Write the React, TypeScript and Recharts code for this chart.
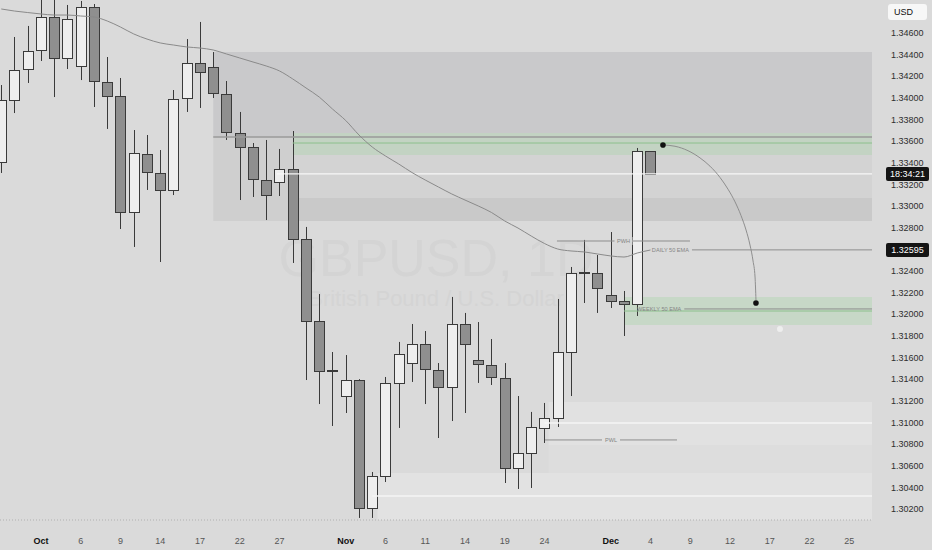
import React from "react";
import {
  ComposedChart,
  Bar,
  Line,
  XAxis,
  YAxis,
  ReferenceArea,
  ReferenceLine,
  ReferenceDot,
} from "recharts";

// candle index 0 = Oct 1 (weekdays only); first visible candle is Sep 26
const FIRST = -3;

const opens = [
  1.33407, 1.33981, 1.34267, 1.34443, 1.34748, 1.34369, 1.34295, 1.3484, 1.34147, 1.34018,
  1.32945, 1.33481, 1.33306, 1.33149, 1.33999, 1.34323, 1.34286, 1.34036, 1.33676, 1.33546,
  1.33241, 1.33223, 1.33343, 1.32696, 1.31938, 1.31485, 1.31244, 1.31392, 1.30209, 1.30505,
  1.31365, 1.31549, 1.31725, 1.31485, 1.31328, 1.3191, 1.31577, 1.31531, 1.31411, 1.30579,
  1.30718, 1.30949, 1.31041, 1.31651, 1.32391, 1.32381, 1.32178, 1.32123, 1.32095, 1.33509,
];
const highs = [
  1.34119, 1.34563, 1.34665, 1.3496, 1.3498, 1.34859, 1.34896, 1.34868, 1.34378, 1.34184,
  1.33703, 1.33657, 1.33518, 1.34073, 1.34544, 1.34702, 1.34424, 1.34156, 1.3387, 1.33583,
  1.33611, 1.33528, 1.33694, 1.32807, 1.32187, 1.31651, 1.31623, 1.314, 1.30542, 1.3142,
  1.31744, 1.3191, 1.31845, 1.31549, 1.3216, 1.32012, 1.31928, 1.31771, 1.31549, 1.31244,
  1.31097, 1.3118, 1.32141, 1.32437, 1.32687, 1.32548, 1.3276, 1.32215, 1.33537, 1.33509,
];
const lows = [
  1.33306, 1.3386, 1.34138, 1.34341, 1.34008, 1.34267, 1.34165, 1.33916, 1.33713, 1.32788,
  1.32622, 1.33149, 1.32483, 1.33102, 1.3387, 1.33907, 1.33999, 1.33611, 1.33056, 1.33084,
  1.32871, 1.33093, 1.32474, 1.31392, 1.3117, 1.30967, 1.31087, 1.30117, 1.30117, 1.30449,
  1.30949, 1.31374, 1.3117, 1.30856, 1.31013, 1.31087, 1.31365, 1.31346, 1.3044, 1.30385,
  1.30394, 1.3081, 1.30958, 1.31244, 1.32104, 1.32012, 1.32058, 1.31799, 1.31984, 1.33297,
];
const closes = [
  1.33981, 1.34258, 1.34434, 1.34748, 1.34369, 1.34729, 1.3484, 1.34156, 1.34018, 1.32945,
  1.33491, 1.33315, 1.33149, 1.3399, 1.34323, 1.34239, 1.34045, 1.33685, 1.33546, 1.3325,
  1.33102, 1.33343, 1.32696, 1.31938, 1.31476, 1.3148, 1.31392, 1.30209, 1.30505, 1.31365,
  1.31633, 1.31725, 1.31494, 1.31328, 1.3191, 1.31725, 1.3154, 1.3142, 1.30579, 1.30718,
  1.30958, 1.31041, 1.31651, 1.32381, 1.32395, 1.32243, 1.32123, 1.32095, 1.33509, 1.33297,
];
// daily 50 EMA
const ema50 = [
  1.34822, 1.34803, 1.34789, 1.34776, 1.34766, 1.34766, 1.34757, 1.34748, 1.34711, 1.34655,
  1.34591, 1.34544, 1.34508, 1.34489, 1.34471, 1.34461, 1.34443, 1.34406, 1.34369, 1.34332,
  1.34295, 1.34249, 1.34175, 1.34092, 1.34008, 1.33897, 1.33791, 1.33657, 1.33546, 1.33463,
  1.33389, 1.3331, 1.33241, 1.33176, 1.33112, 1.33056, 1.33001, 1.32941, 1.32862, 1.32797,
  1.32723, 1.32654, 1.32603, 1.32585, 1.32576, 1.32557, 1.32539, 1.32529, 1.32566, 1.32594,
];

const tickIdx = [0, 3, 6, 9, 12, 15, 18, 23, 26, 29, 32, 35, 38, 43, 46, 49, 52, 55, 58, 61];
const tickLabels = [
  "Oct", "6", "9", "14", "17", "22", "27", "Nov", "6", "11",
  "14", "19", "24", "Dec", "4", "9", "12", "17", "22", "25",
];
const months = ["Oct", "Nov", "Dec"];

const priceTicks = [
  1.302, 1.304, 1.306, 1.308, 1.31, 1.312, 1.314, 1.316, 1.318, 1.32, 1.322,
  1.324, 1.328, 1.33, 1.332, 1.334, 1.336, 1.338, 1.34, 1.342, 1.344, 1.346,
];

// drawn levels
const LAST_PRICE = 1.33297;
const DAILY_EMA = 1.32595;
const WEEKLY_EMA = 1.32049;
const WEEKLY_EMA_2 = 1.3203;
const PWH = 1.32677;
const PWL = 1.30838;
const SUPPLY_TOP = 1.34424;
const SUPPLY_MID = 1.33639;
const SUPPLY_BOTTOM = 1.32862;
const GREEN_TOP = 1.33676;
const GREEN_LINE = 1.33583;
const GREEN_BOTTOM = 1.33472;
const BAND_TOP = 1.33075;
const LOW_ZONE_TOP = 1.31189;
const LOW_ZONE_LINE = 1.30995;
const LOW_ZONE_BOTTOM = 1.30791;
const LOW_ZONE2_TOP = 1.30533;
const LOW_ZONE2_LINE = 1.3032;
const TARGET_TOP = 1.3216;
const TARGET_BOTTOM = 1.31901;

// projection arrow
const projection = [
  { i: 46.94, p: 1.33565 },
  { i: 47.85, p: 1.33553 },
  { i: 48.83, p: 1.33512 },
  { i: 49.74, p: 1.33445 },
  { i: 50.49, p: 1.33369 },
  { i: 51.25, p: 1.33264 },
  { i: 51.85, p: 1.33156 },
  { i: 52.38, p: 1.33039 },
  { i: 52.83, p: 1.32913 },
  { i: 53.21, p: 1.32779 },
  { i: 53.51, p: 1.3264 },
  { i: 53.74, p: 1.32492 },
  { i: 53.89, p: 1.32344 },
  { i: 53.96, p: 1.32132 },
];

const X_MIN = -3.094;
const X_MAX = 62.717;
const Y_MIN = 1.30098;
const Y_MAX = 1.34905;

const data = opens.map((o, k) => ({
  i: k + FIRST,
  open: o,
  high: highs[k],
  low: lows[k],
  close: closes[k],
  ema: ema50[k],
}));

const BG = "#dadada";
const INK = "#3a3a3a";

function Candle(props: any) {
  const { x, y, width, height, payload } = props;
  if (!payload || x == null || y == null) return null;
  const { open, close, high, low } = payload;
  const top = Math.min(y, y + height);
  const span = Math.abs(height);
  const k = high === low ? 0 : span / (high - low);
  const cx = Math.round(x + width / 2) + 0.5;
  const yO = top + (high - open) * k;
  const yC = top + (high - close) * k;
  const up = close >= open;
  const bTop = Math.round(Math.min(yO, yC)) + 0.5;
  const bH = Math.max(Math.round(Math.abs(yO - yC)), 1);
  return (
    <g>
      <line x1={cx} x2={cx} y1={top} y2={top + span} stroke={INK} strokeWidth={1} />
      <rect
        x={cx - 5}
        y={bTop}
        width={10}
        height={bH}
        fill={up ? "#eeeeee" : "#8f8f8f"}
        stroke={INK}
        strokeWidth={1}
      />
    </g>
  );
}

function DateTick(props: any) {
  const { x, y, payload } = props;
  const label = tickLabels[tickIdx.indexOf(payload.value)];
  const isMonth = months.includes(label);
  return (
    <text
      x={x}
      y={y}
      dy="0.35em"
      textAnchor="middle"
      fontSize={9}
      fontWeight={isMonth ? 700 : 400}
      fill={isMonth ? "#111" : "#555"}
    >
      {label}
    </text>
  );
}

function AxisBox({ x, y, text }: { x: number; y: number; text: string }) {
  return (
    <g>
      <rect x={x} y={y - 7} width={43} height={14} rx={2} fill="#141414" />
      <text x={x + 21.5} y={y} dy="0.35em" textAnchor="middle" fontSize={9} fill="#ffffff">
        {text}
      </text>
    </g>
  );
}

function MidTag(props: any) {
  const { viewBox, text, bg } = props;
  if (!viewBox) return null;
  const cx = viewBox.x + viewBox.width / 2;
  const w = text.length * 4 + 6;
  return (
    <g>
      <rect x={cx - w / 2} y={viewBox.y - 4} width={w} height={8} fill={bg} />
      <text x={cx} y={viewBox.y} dy="0.35em" textAnchor="middle" fontSize={5.6} fill="#858585">
        {text}
      </text>
    </g>
  );
}

function LeadTag(props: any) {
  const { viewBox, text, box } = props;
  if (!viewBox) return null;
  return (
    <g>
      <text x={viewBox.x - 3} y={viewBox.y} dy="0.35em" textAnchor="end" fontSize={5.6} fill="#858585">
        {text}
      </text>
      {box && <AxisBox x={viewBox.x + viewBox.width + 14} y={viewBox.y} text={box} />}
    </g>
  );
}

function EndBox(props: any) {
  const { viewBox, box } = props;
  if (!viewBox) return null;
  return <AxisBox x={viewBox.x + viewBox.width + 14} y={viewBox.y} text={box} />;
}

export default function App() {
  return (
    <div
      style={{
        position: "fixed",
        left: 0,
        top: 0,
        width: 932,
        height: 550,
        background: BG,
        fontFamily: "'Liberation Sans', Arial, sans-serif",
        overflow: "hidden",
      }}
    >
      <svg width={872} height={520} style={{ position: "absolute", left: 0, top: 0 }}>
        <text x={436} y={276} textAnchor="middle" fontSize={52} fill="#d4d4d4">
          GBPUSD, 1D
        </text>
        <text x={436} y={306} textAnchor="middle" fontSize={22} fill="#d4d4d4">
          British Pound / U.S. Dollar
        </text>
      </svg>
      <div style={{ position: "absolute", left: 0, top: 0 }}>
        <ComposedChart width={932} height={550} data={data} margin={{ top: 0, right: 0, bottom: 0, left: 0 }}>
          <XAxis
            type="number"
            dataKey="i"
            domain={[X_MIN, X_MAX]}
            allowDataOverflow
            ticks={tickIdx}
            interval={0}
            tick={<DateTick />}
            tickLine={false}
            tickSize={0}
            tickMargin={21}
            axisLine={{ stroke: "#b0b0b0", strokeDasharray: "1 2" }}
            height={30}
          />
          <YAxis
            orientation="right"
            domain={[Y_MIN, Y_MAX]}
            allowDataOverflow
            ticks={priceTicks}
            interval={0}
            tickFormatter={(v: number) => v.toFixed(5)}
            tick={{ fontSize: 9, fill: "#2e2e2e" }}
            tickLine={false}
            axisLine={false}
            tickSize={0}
            tickMargin={19}
            width={60}
          />

          {/* supply zone */}
          <ReferenceArea x1={13} x2={X_MAX} y1={SUPPLY_MID} y2={SUPPLY_TOP} fill="#c9c9cb" fillOpacity={1} stroke="none" ifOverflow="hidden" />
          <ReferenceArea x1={13} x2={19} y1={SUPPLY_BOTTOM} y2={SUPPLY_MID} fill="#cfcfcf" fillOpacity={1} stroke="none" ifOverflow="hidden" />
          <ReferenceArea x1={19} x2={X_MAX} y1={BAND_TOP} y2={GREEN_BOTTOM} fill="#d3d3d3" fillOpacity={1} stroke="none" ifOverflow="hidden" />
          <ReferenceArea x1={19} x2={X_MAX} y1={SUPPLY_BOTTOM} y2={BAND_TOP} fill="#c9c9c9" fillOpacity={1} stroke="none" ifOverflow="hidden" />
          <ReferenceArea x1={19} x2={X_MAX} y1={GREEN_BOTTOM} y2={GREEN_TOP} fill="#c3d3c3" fillOpacity={1} stroke="none" ifOverflow="hidden" />
          <ReferenceLine segment={[{ x: 13, y: SUPPLY_MID }, { x: X_MAX, y: SUPPLY_MID }]} stroke="#9a9a9a" strokeWidth={1.5} ifOverflow="hidden" />
          <ReferenceLine segment={[{ x: 19, y: GREEN_LINE }, { x: X_MAX, y: GREEN_LINE }]} stroke="#8cc08c" strokeWidth={1} ifOverflow="hidden" />

          {/* lower zones */}
          <ReferenceArea x1={38.3} x2={X_MAX} y1={LOW_ZONE_BOTTOM} y2={LOW_ZONE_TOP} fill="#e1e1e1" fillOpacity={1} stroke="none" ifOverflow="hidden" />
          <ReferenceArea x1={38.3} x2={X_MAX} y1={LOW_ZONE2_TOP} y2={LOW_ZONE_BOTTOM} fill="#dddddd" fillOpacity={1} stroke="none" ifOverflow="hidden" />
          <ReferenceArea x1={25.4} x2={X_MAX} y1={Y_MIN} y2={LOW_ZONE2_TOP} fill="#e2e2e2" fillOpacity={1} stroke="none" ifOverflow="hidden" />
          <ReferenceLine segment={[{ x: 38, y: LOW_ZONE_LINE }, { x: X_MAX, y: LOW_ZONE_LINE }]} stroke="#f4f4f4" strokeWidth={1.5} ifOverflow="hidden" />
          <ReferenceLine segment={[{ x: 25, y: LOW_ZONE2_LINE }, { x: X_MAX, y: LOW_ZONE2_LINE }]} stroke="#f4f4f4" strokeWidth={1.5} ifOverflow="hidden" />

          {/* weekly EMA target zone */}
          <ReferenceArea x1={44} x2={X_MAX} y1={TARGET_BOTTOM} y2={TARGET_TOP} fill="#c7d8c7" fillOpacity={1} stroke="none" ifOverflow="hidden" />
          <ReferenceLine segment={[{ x: 44, y: WEEKLY_EMA_2 }, { x: X_MAX, y: WEEKLY_EMA_2 }]} stroke="#8cc08c" strokeWidth={1} ifOverflow="hidden" />
          <ReferenceLine
            segment={[{ x: 48.55, y: WEEKLY_EMA }, { x: X_MAX, y: WEEKLY_EMA }]}
            stroke="#8d8d8d"
            strokeWidth={1}
            label={<LeadTag text="WEEKLY 50 EMA" />}
          />

          {/* last price */}
          <ReferenceLine
            segment={[{ x: 17.8, y: LAST_PRICE }, { x: X_MAX, y: LAST_PRICE }]}
            stroke="#f7f7f7"
            strokeWidth={1.2}
            label={<EndBox box="18:34:21" />}
          />

          {/* PWH / PWL / daily EMA */}
          <ReferenceLine
            segment={[{ x: 38.94, y: PWH }, { x: 48.98, y: PWH }]}
            stroke="#8d8d8d"
            strokeWidth={1}
            label={<MidTag text="PWH" bg={BG} />}
          />
          <ReferenceLine
            segment={[{ x: 38.04, y: PWL }, { x: 48, y: PWL }]}
            stroke="#8d8d8d"
            strokeWidth={1}
            label={<MidTag text="PWL" bg="#e1e1e1" />}
          />
          <ReferenceLine
            segment={[{ x: 49.13, y: DAILY_EMA }, { x: X_MAX, y: DAILY_EMA }]}
            stroke="#8d8d8d"
            strokeWidth={1}
            label={<LeadTag text="DAILY 50 EMA" box="1.32595" />}
          />

          <Line
            dataKey="ema"
            type="monotone"
            stroke="#8a8a8a"
            strokeWidth={1}
            dot={false}
            activeDot={false}
            isAnimationActive={false}
          />
          <Bar
            dataKey={(d: any) => [d.low, d.high]}
            shape={<Candle />}
            barSize={10}
            isAnimationActive={false}
          />

          <Line
            data={projection}
            dataKey="p"
            type="monotone"
            stroke="#8e8e8e"
            strokeWidth={1}
            dot={false}
            activeDot={false}
            isAnimationActive={false}
          />
          <ReferenceDot x={46.94} y={1.33565} r={2.8} fill="#111" stroke="none" />
          <ReferenceDot x={53.96} y={1.32104} r={2.8} fill="#111" stroke="none" />
          <ReferenceDot x={55.77} y={1.31864} r={3} fill="#eeeeee" stroke="none" />
        </ComposedChart>
      </div>
      <div
        style={{
          position: "absolute",
          left: 888,
          top: 4,
          width: 39,
          height: 16,
          background: "#f7f7f7",
          borderRadius: 3,
          fontSize: 9,
          lineHeight: "16px",
          color: "#111",
          paddingLeft: 6,
          boxSizing: "border-box",
        }}
      >
        USD
      </div>
    </div>
  );
}
